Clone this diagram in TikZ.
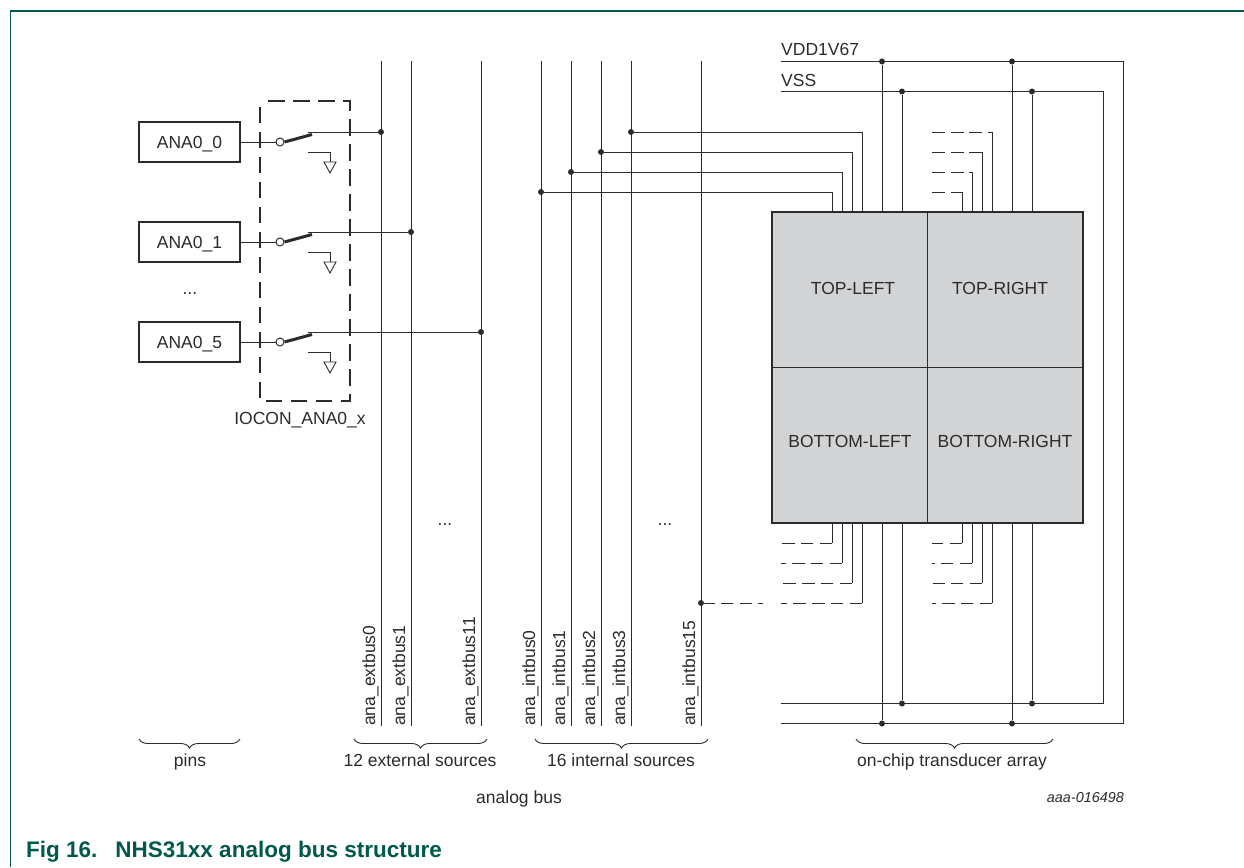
\documentclass[tikz,border=0pt]{standalone}
\usepackage{fontspec}
\setmainfont{Liberation Sans}
\usetikzlibrary{decorations.pathreplacing,calc}
\definecolor{ink}{HTML}{2B2B2B}
\definecolor{nxpgreen}{HTML}{00594A}
\definecolor{arrayfill}{HTML}{D1D3D4}
\tikzset{
  x=1pt,y=-1pt,
  wire/.style={draw=ink,line width=0.95pt},
  thin wire/.style={draw=ink,line width=0.9pt},
  dash wire/.style={draw=ink,line width=0.95pt,dash pattern=on 12.5pt off 6.2pt},
  pinbox/.style={draw=ink,line width=2.2pt,fill=white,minimum width=101pt,minimum height=40pt,inner sep=0pt},
  lab/.style={font=\fontsize{17.5}{20}\selectfont,text=ink,inner sep=0pt,anchor=base},
  vlab/.style={lab,rotate=90,anchor=base west},
  dot/.style={circle,fill=ink,inner sep=0pt,minimum size=6pt},
  brace/.style={draw=ink,line width=0.9pt,decorate,decoration={brace,amplitude=9pt,mirror}},
  cell/.style={draw=ink,line width=0.95pt,fill=arrayfill,minimum height=155.5pt,inner sep=0pt},
  openc/.style={circle,draw=ink,line width=1pt,fill=white,inner sep=0pt,minimum size=8pt},
}
\newcommand{\bgnd}[2]{%
  \draw[thin wire] (#1,#2) -- ++(22,0) -- ++(0,10);
  \draw[thin wire] ($(#1,#2)+(16,10)$) -- ++(12,0) -- ++(-6,11) -- cycle;
}
\begin{document}
\begin{tikzpicture}
\useasboundingbox (0,0) rectangle (1244,867);
% frame
\coordinate (fa) at (10.5,867);
\coordinate (fb) at (10.5,11);
\coordinate (fc) at (1244,11);
\draw[nxpgreen,line width=1.3pt] (fa) -- (fb) -- (fc);
% pin boxes
\node[pinbox] (p0) at (189.5,142) {};
\node[pinbox] (p1) at (189.5,242) {};
\node[pinbox] (p5) at (189.5,342) {};
\node[lab] (pt0) at (189.5,148) {ANA0\_0};
\node[lab] (pt1) at (189.5,248) {ANA0\_1};
\node[lab] (pt5) at (189.5,348) {ANA0\_5};
\node[lab] (dots0) at (190,294) {...};
% switches
\foreach \n/\y in {0/142,1/242,5/342}{
  \node[openc] (c\n) at (280,\y) {};
  \coordinate (t\n) at (308,\y-10);
  \draw[wire] (p\n.east) -- (c\n);
  \draw[draw=ink,line width=3pt] (c\n.east) -- (312,\y-7.5);
  \bgnd{308}{\y+10}
}
% buses
\foreach \nm/\x/\t in {e0/381/ana\_extbus0,e1/411/ana\_extbus1,e11/481/ana\_extbus11,i0/541/ana\_intbus0,i1/571/ana\_intbus1,i2/601/ana\_intbus2,i3/631/ana\_intbus3,i15/701/ana\_intbus15}{
  \coordinate (\nm top) at (\x,61);
  \coordinate (\nm bot) at (\x,726);
  \draw[wire] (\nm top) -- (\nm bot);
  \node[vlab] (\nm lab) at (\x-6,726) {\t};
}
\node[dot] (de0) at (381,132) {};
\node[dot] (de1) at (411,232) {};
\node[dot] (de11) at (481,332) {};
\draw[wire] (t0) -- (de0);
\draw[wire] (t1) -- (de1);
\draw[wire] (t5) -- (de11);
% IOCON dashed box
\coordinate (ioa) at (268,101);
\coordinate (iob) at (350,101);
\coordinate (ioc) at (350,401);
\coordinate (iod) at (260,401);
\coordinate (ioe) at (260,101);
\draw[draw=ink,line width=2.6pt,dash pattern=on 16.5pt off 8.5pt] (ioa) -- (iob) -- (ioc) -- (iod) -- (ioe);
\node[lab] (iolab) at (300,424) {IOCON\_ANA0\_x};
\node[lab] (d1) at (445,525) {...};
\node[lab] (d2) at (665,525) {...};
% power rails
\coordinate (vddL) at (781,61.5);
\coordinate (vddR) at (1123,61.5);
\coordinate (vssL) at (781,91.5);
\coordinate (vssR) at (1103,91.5);
\coordinate (vssB) at (781,703.5);
\coordinate (vddB) at (781,723.5);
\draw[wire] (vddL) -- (vddR) |- (vddB);
\draw[wire] (vssL) -- (vssR) |- (vssB);
\node[lab,anchor=base west] (vddlab) at (781,56) {VDD1V67};
\node[lab,anchor=base west] (vsslab) at (781,86) {VSS};
\foreach \x in {882,1012}{
  \node[dot] (vt\x) at (\x,61.5) {};
  \node[dot] (vb\x) at (\x,723.5) {};
  \draw[wire] (vt\x) -- (vb\x);
}
\foreach \x in {902,1032}{
  \node[dot] (st\x) at (\x,91.5) {};
  \node[dot] (sb\x) at (\x,703.5) {};
  \draw[wire] (st\x) -- (sb\x);
}
% array
\node[cell,minimum width=155pt] (tl) at (849.5,289.75) {};
\node[cell,minimum width=156pt] (tr) at (1005,289.75) {};
\node[cell,minimum width=155pt] (bl) at (849.5,445.25) {};
\node[cell,minimum width=156pt] (br) at (1005,445.25) {};
\node[lab] (ttl) at (853,294) {TOP-LEFT};
\node[lab] (ttr) at (1000,294) {TOP-RIGHT};
\node[lab] (tbl) at (850,447) {BOTTOM-LEFT};
\node[lab] (tbr) at (1005,447) {BOTTOM-RIGHT};
% top-left connections
\foreach \x/\y/\n/\bx in {832/192/i0/541,842/172/i1/571,852/152/i2/601,862/132/i3/631}{
  \node[dot] (b\n) at (\bx,\y) {};
  \coordinate (e\n) at (\x,212);
  \draw[wire] (b\n) -| (e\n);
}
% top-right dashed
\foreach \x/\y in {962/192,972/172,982/152,992/132}{
  \coordinate (a) at (\x,212);
  \coordinate (k) at (\x,\y);
  \coordinate (o) at (932,\y);
  \draw[wire] (a) -- (k);
  \draw[draw=ink,line width=0.95pt,dash pattern=on 13pt off 5.5pt] (o) -- (k);
}
% bottom-left dashed
\foreach \x/\y/\l in {832/543/782,842/563/781,852/583/783,862/603/781}{
  \coordinate (a) at (\x,523);
  \coordinate (k) at (\x,\y);
  \coordinate (o) at (\l,\y);
  \draw[wire] (a) -- (k);
  \draw[dash wire] (k) -- (o);
}
\node[dot] (bi15) at (701,603) {};
\coordinate (o15) at (763,603);
\draw[dash wire,dash phase=2pt] (bi15) -- (o15);
% bottom-right dashed
\foreach \x/\y/\l in {962/543/932,972/563/932,982/583/933,992/603/932}{
  \coordinate (a) at (\x,523);
  \coordinate (k) at (\x,\y);
  \coordinate (o) at (\l,\y);
  \draw[wire] (a) -- (k);
  \draw[dash wire] (k) -- (o);
}
% array outline
\draw[draw=ink,line width=2pt] (tl.north west) rectangle (br.south east);
% braces
\coordinate (b1a) at (139,739); \coordinate (b1b) at (240,739);
\coordinate (b2a) at (354,739); \coordinate (b2b) at (487,739);
\coordinate (b3a) at (535,739); \coordinate (b3b) at (708,739);
\coordinate (b4a) at (856,739); \coordinate (b4b) at (1053,739);
\draw[brace] (b1a) -- (b1b);
\draw[brace] (b2a) -- (b2b);
\draw[brace] (b3a) -- (b3b);
\draw[brace] (b4a) -- (b4b);
\node[lab] (l1) at (190,766) {pins};
\node[lab] (l2) at (420,766) {12 external sources};
\node[lab] (l3) at (621,766) {16 internal sources};
\node[lab] (l4) at (952,766) {on-chip transducer array};
\node[lab] (l5) at (519,803) {analog bus};
\node[lab,anchor=base east,font=\fontsize{14.4}{16}\selectfont\itshape] (l6) at (1124,802) {aaa-016498};
\node[lab,anchor=base west,text=nxpgreen,font=\fontsize{22.5}{26}\selectfont\bfseries] (cap) at (26,857) {Fig 16.\hspace{0.8em}NHS31xx analog bus structure};
\end{tikzpicture}
\end{document}
